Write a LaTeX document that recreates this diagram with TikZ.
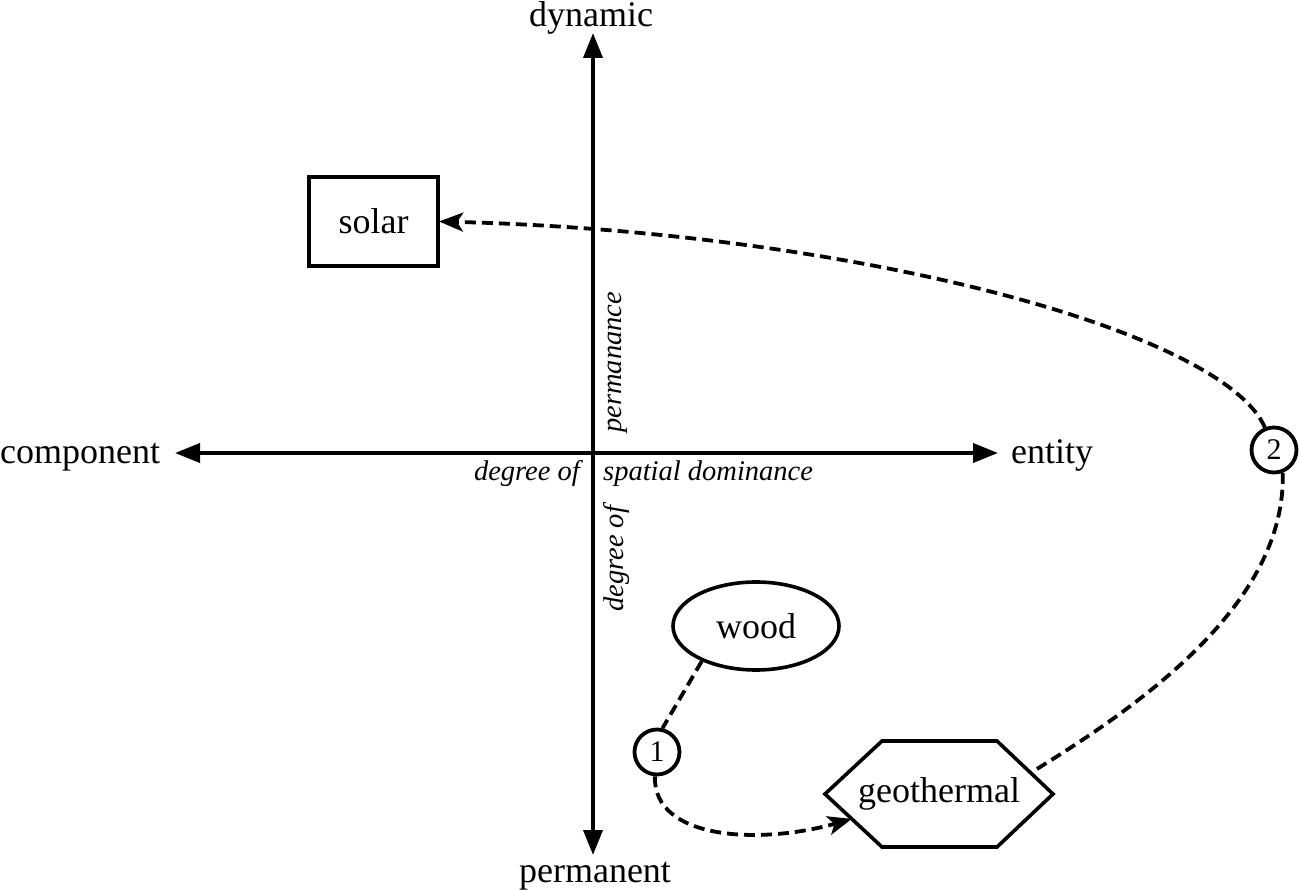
\documentclass[tikz,border=0pt]{standalone}
\usepackage{fontspec}
\setmainfont{Liberation Serif}
\usetikzlibrary{arrows.meta,shapes.geometric,calc}
\begin{document}
\begin{tikzpicture}[x=1pt,y=-1pt,
  axis/.style={line width=3.8pt, {Triangle[length=25pt,width=19pt]}-{Triangle[length=25pt,width=19pt]}},
  bigtext/.style={font=\fontsize{36}{40}\selectfont, inner sep=0pt},
  smalltext/.style={font=\fontsize{28.5}{32}\selectfont\itshape, inner sep=0pt},
  boxnode/.style={draw, line width=4.2pt, minimum width=129pt, minimum height=89pt, inner sep=0pt, font=\fontsize{36}{40}\selectfont},
  ellnode/.style={draw, ellipse, line width=3.6pt, minimum width=166pt, minimum height=88pt, inner sep=0pt, font=\fontsize{36}{40}\selectfont},
  numnode/.style={draw, circle, line width=3.8pt, minimum size=45pt, inner sep=0pt, font=\fontsize{30}{31}\selectfont},
  hexline/.style={line width=3.6pt, line join=miter},
  dashline/.style={line width=3.8pt, dash pattern=on 11pt off 6pt},
  dasharrow/.style={dashline, -{Stealth[length=24pt,width=19pt,inset=6pt]}}
]
\useasboundingbox (0,0) rectangle (1301,890);

% axes
\coordinate (top) at (593,33);
\coordinate (bot) at (593,855);
\coordinate (left) at (175,453);
\coordinate (right) at (998,453);
\draw[axis] (bot) -- (top);
\draw[axis] (left) -- (right);

% axis labels
\node[bigtext, anchor=base] (dyn) at (591,27) {dynamic};
\node[bigtext, anchor=base] (perm) at (595,882) {permanent};
\node[bigtext, anchor=base west] (comp) at (0,463) {component};
\node[bigtext, anchor=base west] (ent) at (1011,463) {entity};

% axis titles
\node[smalltext, anchor=base east] (dego1) at (580,480) {degree of};
\node[smalltext, anchor=base west] (spat) at (603,480) {spatial dominance};
\node[smalltext, anchor=base west, rotate=90] (pman) at (621,433) {permanance};
\node[smalltext, anchor=base west, rotate=90] (dego2) at (623,612) {degree of};

% nodes
\node[boxnode] (solar) at (373.5,221.5) {solar};
\node[ellnode] (wood) at (756,626) {wood};
\node[numnode] (c1) at (657,752) {1};
\node[numnode] (c2) at (1274,450) {2};

\node[bigtext] (geo) at (939,794) {geothermal};
\coordinate (hw) at (825,794);
\coordinate (htl) at (882,741);
\coordinate (htr) at (997,741);
\coordinate (he) at (1053,794);
\coordinate (hbr) at (997,847);
\coordinate (hbl) at (882,847);
\draw[hexline] (hw) -- (htl) -- (htr) -- (he) -- (hbr) -- (hbl) -- cycle;
\coordinate (geoin) at ($(hw)!0.47!(hbl)$);
\coordinate (geoout) at ($(htr)!0.6!(he)$);

% connectors
\draw[dashline] (wood.213) -- (c1.77);
\draw[dasharrow] (c1.265) .. controls (653,840) and (760,845) .. (geoin);
\draw[dasharrow, shorten >=-1pt] (c2.112) .. controls (1222,330) and (850,232) .. (solar.east);
\draw[dashline] (c2.291) .. controls (1286,600) and (1150,700) .. (geoout);
\end{tikzpicture}
\end{document}
